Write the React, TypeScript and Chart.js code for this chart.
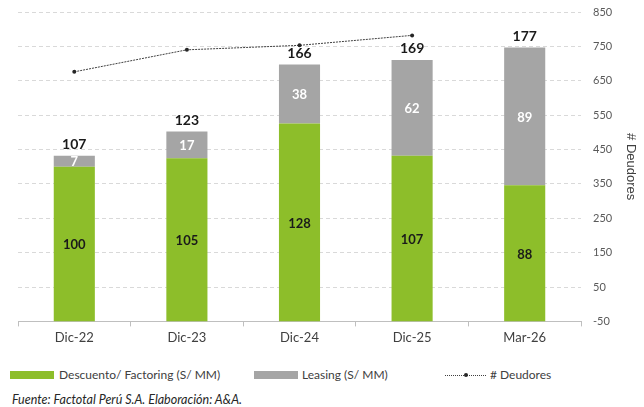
import React, { useEffect, useRef } from "react";
import { Chart, registerables } from "chart.js";

Chart.register(...registerables);

const categories = ["Dic-22", "Dic-23", "Dic-24", "Dic-25", "Mar-26"];
const descuentoFactoring = [100, 105.4, 128, 107, 88];
const leasing = [7, 17.4, 38, 62, 89];
const deudores = [676, 740, 753, 782, null];
const rightTicks = [-50, 50, 150, 250, 350, 450, 550, 650, 750, 850];

const GREEN = "#8DBE2A";
const GRAY = "#A5A5A5";
const FONT = "Lato, 'Noto Sans', sans-serif";

const labelsPlugin = {
  id: "barLabels",
  afterDatasetsDraw(chart: any) {
    const ctx = chart.ctx;
    ctx.save();
    ctx.textAlign = "center";
    [0, 1].forEach((di) => {
      const meta = chart.getDatasetMeta(di);
      const ds = chart.data.datasets[di];
      meta.data.forEach((el: any, i: number) => {
        const v = ds.data[i];
        if (v == null) return;
        const { x, y, base } = el.getProps(["x", "y", "base"], true);
        ctx.font = `bold 13px ${FONT}`;
        ctx.fillStyle = di === 0 ? "#1a1a1a" : "#ffffff";
        ctx.textBaseline = "middle";
        ctx.fillText(String(Math.round(v)), x, (y + base) / 2 + 1);
      });
    });
    const topMeta = chart.getDatasetMeta(1);
    topMeta.data.forEach((el: any, i: number) => {
      const total = descuentoFactoring[i] + leasing[i];
      const { x, y } = el.getProps(["x", "y"], true);
      ctx.font = `bold 14px ${FONT}`;
      ctx.fillStyle = "#1a1a1a";
      ctx.textBaseline = "bottom";
      ctx.fillText(String(Math.round(total)), x, y - 4);
    });
    ctx.restore();
  },
};

export default function App() {
  const ref = useRef<HTMLCanvasElement>(null);

  useEffect(() => {
    document.body.style.margin = "0";
    const chart = new Chart(ref.current!, {
      type: "bar",
      data: {
        labels: categories,
        datasets: [
          {
            type: "bar",
            label: "Descuento/ Factoring (S/ MM)",
            data: descuentoFactoring,
            backgroundColor: GREEN,
            yAxisID: "y",
            order: 2,
            barPercentage: 0.365,
            categoryPercentage: 1,
          },
          {
            type: "bar",
            label: "Leasing (S/ MM)",
            data: leasing,
            backgroundColor: GRAY,
            yAxisID: "y",
            order: 2,
            barPercentage: 0.365,
            categoryPercentage: 1,
          },
          {
            type: "line",
            label: "# Deudores",
            data: deudores as any,
            yAxisID: "y1",
            order: 1,
            borderColor: "#404040",
            borderWidth: 1,
            borderDash: [2, 1],
            pointRadius: 2,
            pointBackgroundColor: "#262626",
            pointBorderWidth: 0,
            spanGaps: false,
          } as any,
        ],
      },
      options: {
        animation: false,
        responsive: false,
        layout: { padding: { left: 18, right: 0, top: 12, bottom: 5 } },
        plugins: { legend: { display: false }, tooltip: { enabled: false } },
        scales: {
          x: {
            stacked: true,
            grid: {
              drawOnChartArea: false,
              drawTicks: true,
              tickLength: 5,
              color: "#bfbfbf",
              offset: true,
            },
            border: { color: "#bfbfbf" },
            ticks: { color: "#404040", font: { family: FONT, size: 13 }, padding: 4 },
          },
          y: { stacked: true, display: false, min: 0, max: 200 },
          y1: {
            position: "right",
            min: -50,
            max: 850,
            afterBuildTicks: (axis: any) => {
              axis.ticks = rightTicks.map((v) => ({ value: v }));
            },
            afterFit: (axis: any) => {
              axis.width = 63;
              axis.paddingTop = 0;
              axis.paddingBottom = 0;
            },
            grid: { color: "#d9d9d9", drawTicks: false },
            border: { display: false, dash: [4, 3] },
            ticks: { color: "#595959", font: { family: FONT, size: 11 }, padding: 12 },
            title: {
              display: true,
              text: "# Deudores",
              color: "#404040",
              font: { family: "'Liberation Sans', Arial, sans-serif", size: 13 },
              padding: { top: 6, bottom: 0 },
            },
          },
        },
      },
      plugins: [labelsPlugin],
    });
    return () => chart.destroy();
  }, []);

  const txt: React.CSSProperties = {
    position: "absolute",
    fontFamily: FONT,
    fontSize: 12,
    color: "#404040",
    lineHeight: "16px",
    whiteSpace: "nowrap",
  };

  return (
    <div style={{ position: "relative", width: 644, height: 407, background: "#fff", overflow: "hidden" }}>
      <canvas ref={ref} width={644} height={355} style={{ position: "absolute", left: 0, top: 0 }} />
      <div style={{ position: "absolute", left: 10, top: 371, width: 44, height: 8, background: GREEN }} />
      <div style={{ ...txt, left: 59, top: 367 }}>Descuento/ Factoring (S/ MM)</div>
      <div style={{ position: "absolute", left: 254, top: 371, width: 44, height: 8, background: GRAY }} />
      <div style={{ ...txt, left: 302, top: 367 }}>Leasing (S/ MM)</div>
      <div style={{ position: "absolute", left: 445, top: 375, width: 41, height: 0, borderTop: "1px dotted #404040" }} />
      <div style={{ position: "absolute", left: 464, top: 373, width: 4, height: 4, borderRadius: 2, background: "#262626" }} />
      <div style={{ ...txt, left: 490, top: 367 }}># Deudores</div>
      <div style={{ ...txt, left: 12, top: 392, fontSize: 12.5, fontStyle: "italic", color: "#262626" }}>
        Fuente: Factotal Perú S.A. Elaboración: A&amp;A.
      </div>
    </div>
  );
}
